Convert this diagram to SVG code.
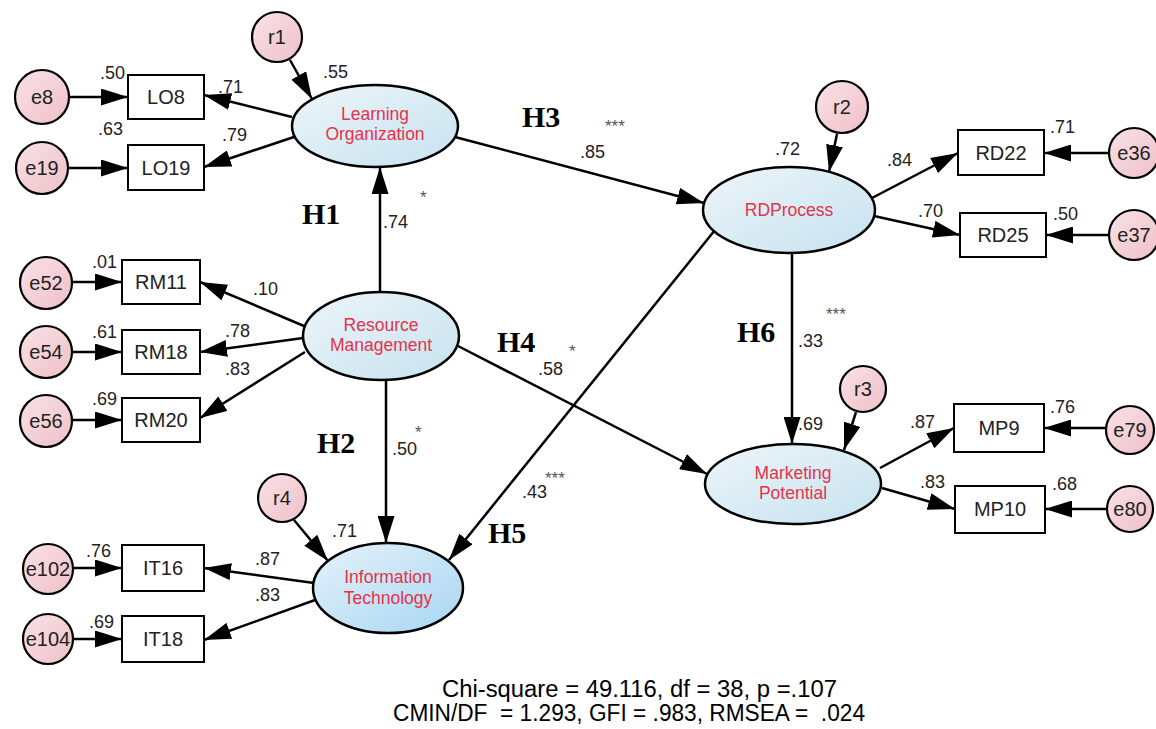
<svg xmlns="http://www.w3.org/2000/svg" width="1156" height="729" viewBox="0 0 1156 729">
<style>
.c{stroke:#000;stroke-width:2.2;fill:url(#pk)}
.b{stroke:#000;stroke-width:2;fill:#fff}
.l{stroke:#000;stroke-width:2.5;fill:url(#bl)}
.ct{font-family:"Liberation Sans",Arial,sans-serif;font-size:20px;fill:#222;text-anchor:middle}
.bt{font-family:"Liberation Sans",Arial,sans-serif;font-size:20px;fill:#222;text-anchor:middle}
.lt{font-family:"Liberation Sans",Arial,sans-serif;font-size:17.5px;fill:#e53349;text-anchor:middle}
.n{font-family:"Liberation Sans",Arial,sans-serif;font-size:18px;fill:#222}
.s{font-family:"Liberation Sans",Arial,sans-serif;font-size:17px;fill:#555}
.h{font-family:"Liberation Serif","Times New Roman",serif;font-size:30px;font-weight:bold;fill:#000}
.f{font-family:"Liberation Sans",Arial,sans-serif;font-size:23px;fill:#000}
#conn line{stroke:#000;stroke-width:2.5;marker-end:url(#ah)}
</style>
<defs>
<linearGradient id="pk" x1="0" y1="0" x2="1" y2="1">
<stop offset="0" stop-color="#f8e2e6"/><stop offset="1" stop-color="#efc0c8"/>
</linearGradient>
<linearGradient id="bl" x1="0" y1="0" x2="1" y2="1">
<stop offset="0" stop-color="#edf5f9"/><stop offset="1" stop-color="#c6e2ef"/>
</linearGradient>
<linearGradient id="bl2" x1="0" y1="0" x2="1" y2="1">
<stop offset="0" stop-color="#e6f2fa"/><stop offset="1" stop-color="#a6d6f2"/>
</linearGradient>
<marker id="ah" markerUnits="userSpaceOnUse" markerWidth="27" markerHeight="17" refX="27" refY="8.5" orient="auto">
<path d="M0,0 L27,8.5 L0,17 z" fill="#000"/>
</marker>
</defs>
<rect width="1156" height="729" fill="#fff"/>

<g id="conn">
<line x1="70" y1="97" x2="128" y2="97"/>
<line x1="68" y1="168" x2="128" y2="168"/>
<line x1="292" y1="117" x2="204" y2="95"/>
<line x1="294" y1="137" x2="204" y2="167"/>
<line x1="290" y1="60" x2="312" y2="99"/>
<line x1="380" y1="292" x2="380" y2="167"/>
<line x1="455" y1="137" x2="704" y2="203"/>
<line x1="837" y1="134" x2="829" y2="172"/>
<line x1="872" y1="198" x2="958" y2="153"/>
<line x1="874" y1="216" x2="960" y2="235"/>
<line x1="1109" y1="153" x2="1044" y2="153"/>
<line x1="1109" y1="235" x2="1046" y2="235"/>
<line x1="792" y1="253" x2="792" y2="444"/>
<line x1="715" y1="230" x2="449" y2="560"/>
<line x1="458" y1="346" x2="707" y2="474"/>
<line x1="856" y1="412" x2="844" y2="450"/>
<line x1="880" y1="468" x2="954" y2="428"/>
<line x1="882" y1="488" x2="955" y2="509"/>
<line x1="1106" y1="428" x2="1044" y2="428"/>
<line x1="1106" y1="509" x2="1045" y2="509"/>
<line x1="304" y1="326" x2="200" y2="282"/>
<line x1="303" y1="338" x2="200" y2="352"/>
<line x1="305" y1="352" x2="200" y2="418"/>
<line x1="72" y1="282" x2="122" y2="282"/>
<line x1="72" y1="352" x2="122" y2="352"/>
<line x1="72" y1="420" x2="122" y2="420"/>
<line x1="386" y1="380" x2="386" y2="543"/>
<line x1="294" y1="520" x2="328" y2="561"/>
<line x1="314" y1="583" x2="204" y2="568"/>
<line x1="315" y1="600" x2="204" y2="640"/>
<line x1="74" y1="568" x2="122" y2="568"/>
<line x1="74" y1="639" x2="122" y2="639"/>
</g>

<g id="LO"><ellipse class="l" cx="375" cy="126" rx="83" ry="41"/><text class="lt" x="375" y="120">Learning</text><text class="lt" x="375" y="140">Organization</text></g>
<g id="RDP"><ellipse class="l" cx="789" cy="210" rx="86" ry="43"/><text class="lt" x="789" y="216">RDProcess</text></g>
<g id="RM"><ellipse class="l" cx="381" cy="336" rx="78" ry="44"/><text class="lt" x="381" y="331">Resource</text><text class="lt" x="381" y="351">Management</text></g>
<g id="MP"><ellipse class="l" cx="793" cy="484" rx="88" ry="40"/><text class="lt" x="793" y="479">Marketing</text><text class="lt" x="793" y="499">Potential</text></g>
<g id="IT"><ellipse class="l" cx="388" cy="588" rx="75" ry="45" style="fill:url(#bl2)"/><text class="lt" x="388" y="583">Information</text><text class="lt" x="388" y="604">Technology</text></g>

<g id="LO8"><rect class="b" x="128" y="75" width="76" height="44"/><text class="bt" x="166" y="104">LO8</text></g>
<g id="LO19"><rect class="b" x="128" y="145" width="76" height="45"/><text class="bt" x="166" y="175">LO19</text></g>
<g id="RM11"><rect class="b" x="122" y="260" width="78" height="44"/><text class="bt" x="161" y="289">RM11</text></g>
<g id="RM18"><rect class="b" x="122" y="330" width="78" height="44"/><text class="bt" x="161" y="359">RM18</text></g>
<g id="RM20"><rect class="b" x="122" y="398" width="78" height="44"/><text class="bt" x="161" y="427">RM20</text></g>
<g id="IT16"><rect class="b" x="122" y="545" width="82" height="46"/><text class="bt" x="163" y="575">IT16</text></g>
<g id="IT18"><rect class="b" x="122" y="616" width="82" height="46"/><text class="bt" x="163" y="646">IT18</text></g>
<g id="RD22"><rect class="b" x="958" y="130" width="86" height="45"/><text class="bt" x="1001" y="160">RD22</text></g>
<g id="RD25"><rect class="b" x="960" y="213" width="86" height="44"/><text class="bt" x="1003" y="242">RD25</text></g>
<g id="MP9"><rect class="b" x="954" y="404" width="90" height="48"/><text class="bt" x="999" y="435">MP9</text></g>
<g id="MP10"><rect class="b" x="955" y="486" width="90" height="47"/><text class="bt" x="1000" y="516">MP10</text></g>

<g id="e8"><circle class="c" cx="42" cy="97" r="27"/><text class="ct" x="42" y="104">e8</text></g>
<g id="e19"><circle class="c" cx="42" cy="168" r="26"/><text class="ct" x="42" y="175">e19</text></g>
<g id="e52"><circle class="c" cx="46" cy="283" r="26"/><text class="ct" x="46" y="290">e52</text></g>
<g id="e54"><circle class="c" cx="46" cy="352" r="26"/><text class="ct" x="46" y="359">e54</text></g>
<g id="e56"><circle class="c" cx="46" cy="421" r="26"/><text class="ct" x="46" y="428">e56</text></g>
<g id="e102"><circle class="c" cx="48" cy="569" r="25"/><text class="ct" x="48" y="576">e102</text></g>
<g id="e104"><circle class="c" cx="48" cy="639" r="25"/><text class="ct" x="48" y="646">e104</text></g>
<g id="r1"><circle class="c" cx="277" cy="37" r="25"/><text class="ct" x="277" y="44">r1</text></g>
<g id="r2"><circle class="c" cx="842" cy="107" r="26"/><text class="ct" x="842" y="114">r2</text></g>
<g id="r3"><circle class="c" cx="863" cy="389" r="23"/><text class="ct" x="863" y="396">r3</text></g>
<g id="r4"><circle class="c" cx="282" cy="498" r="24"/><text class="ct" x="282" y="505">r4</text></g>
<g id="e36"><circle class="c" cx="1134" cy="153" r="25"/><text class="ct" x="1134" y="160">e36</text></g>
<g id="e37"><circle class="c" cx="1134" cy="235" r="25"/><text class="ct" x="1134" y="242">e37</text></g>
<g id="e79"><circle class="c" cx="1130" cy="430" r="24"/><text class="ct" x="1130" y="437">e79</text></g>
<g id="e80"><circle class="c" cx="1130" cy="509" r="23"/><text class="ct" x="1130" y="516">e80</text></g>

<g id="labels">
<text class="n" x="100" y="79">.50</text>
<text class="n" x="98" y="135">.63</text>
<text class="n" x="218" y="93">.71</text>
<text class="n" x="222" y="141">.79</text>
<text class="n" x="323" y="78">.55</text>
<text class="n" x="383" y="228">.74</text>
<text class="s" x="420" y="203">*</text>
<text class="h" x="302" y="224">H1</text>
<text class="h" x="522" y="127">H3</text>
<text class="s" x="605" y="132">***</text>
<text class="n" x="580" y="158">.85</text>
<text class="n" x="775" y="155">.72</text>
<text class="n" x="887" y="166">.84</text>
<text class="n" x="918" y="217">.70</text>
<text class="n" x="1050" y="133">.71</text>
<text class="n" x="1053" y="220">.50</text>
<text class="h" x="737" y="342">H6</text>
<text class="n" x="798" y="347">.33</text>
<text class="s" x="826" y="320">***</text>
<text class="h" x="497" y="352">H4</text>
<text class="s" x="569" y="357">*</text>
<text class="n" x="538" y="375">.58</text>
<text class="n" x="798" y="430">.69</text>
<text class="n" x="910" y="428">.87</text>
<text class="n" x="920" y="488">.83</text>
<text class="n" x="1050" y="413">.76</text>
<text class="n" x="1052" y="490">.68</text>
<text class="n" x="92" y="268">.01</text>
<text class="n" x="92" y="338">.61</text>
<text class="n" x="92" y="405">.69</text>
<text class="n" x="253" y="295">.10</text>
<text class="n" x="225" y="337">.78</text>
<text class="n" x="225" y="375">.83</text>
<text class="h" x="317" y="453">H2</text>
<text class="n" x="392" y="455">.50</text>
<text class="s" x="415" y="438">*</text>
<text class="n" x="332" y="537">.71</text>
<text class="n" x="522" y="498">.43</text>
<text class="s" x="545" y="484">***</text>
<text class="h" x="488" y="543">H5</text>
<text class="n" x="255" y="565">.87</text>
<text class="n" x="255" y="601">.83</text>
<text class="n" x="86" y="557">.76</text>
<text class="n" x="89" y="628">.69</text>
<text class="f" x="442" y="697" textLength="395" lengthAdjust="spacingAndGlyphs">Chi-square = 49.116, df = 38, p =.107</text>
<text class="f" x="393" y="721" xml:space="preserve" textLength="472" lengthAdjust="spacingAndGlyphs">CMIN/DF  = 1.293, GFI = .983, RMSEA =  .024</text>
</g>
</svg>
